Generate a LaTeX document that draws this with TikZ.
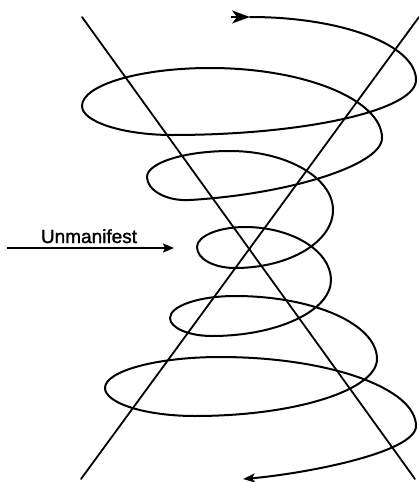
\documentclass[tikz,border=0pt]{standalone}
\usepackage{fontspec}
\newfontfamily\lblfont{Liberation Sans}[FakeBold=1.5]
\usetikzlibrary{arrows.meta}
\tikzset{
  axisline/.style={line width=1.8pt, line cap=round},
  spiral/.style={line width=2pt, line join=round, line cap=round},
  labeltext/.style={font=\lblfont\fontsize{19}{22}\selectfont, inner sep=0pt, anchor=base},
  pointer/.style={line width=1.8pt, -{Stealth[length=11pt,width=9pt,inset=2pt]}}
}
\begin{document}
\begin{tikzpicture}[x=1pt,y=-1pt]
\useasboundingbox (0,0) rectangle (418,482);
% crossing lines
\coordinate (a1) at (82,17);
\coordinate (a2) at (415,479);
\coordinate (b1) at (81,479);
\coordinate (b2) at (419,17);
\draw[axisline] (a1) -- (a2);
\draw[axisline] (b1) -- (b2);
% spiral: extremes (R,L), bottoms (B), tops (T)
\coordinate (s0) at (231,17);
\coordinate (s1) at (250,17);
\coordinate (R1) at (416,80);
\coordinate (B1) at (172,135);
\coordinate (L1) at (82,106);
\coordinate (T1) at (210,68);
\coordinate (R2) at (382,138);
\coordinate (B2) at (190,200);
\coordinate (L2) at (147,177);
\coordinate (T2) at (230,151);
\coordinate (R3) at (333,210);
\coordinate (B3) at (235,268);
\coordinate (L3) at (197,247);
\coordinate (T3) at (245,227);
\coordinate (R4) at (331,280);
\coordinate (B4) at (212,336);
\coordinate (L4) at (170,318);
\coordinate (T4) at (235,296);
\coordinate (R5) at (377,359);
\coordinate (B5) at (195,416);
\coordinate (L5) at (105,388);
\coordinate (T5) at (220,357);
\coordinate (R6) at (416,426);
\coordinate (E) at (243,479);
\draw[spiral, -{Stealth[length=12pt,width=9pt,inset=3pt]}]
  (s1) .. controls (342,17) and (416,45) .. (R1)
       .. controls (416,110) and (306,135) .. (B1)
       .. controls (124,135) and (82,122) .. (L1)
       .. controls (82,85) and (140,68) .. (T1)
       .. controls (305,68) and (382,100) .. (R2)
       .. controls (382,165) and (290,194) .. (B2)
       .. controls (166,201.4) and (147,190) .. (L2)
       .. controls (147,163) and (184,151) .. (T2)
       .. controls (287,151) and (333,178) .. (R3)
       .. controls (333,242) and (289,268) .. (B3)
       .. controls (214,268) and (197,259) .. (L3)
       .. controls (197,236) and (219,227) .. (T3)
       .. controls (292,227) and (331,251) .. (R4)
       .. controls (331,311) and (277,336) .. (B4)
       .. controls (189,336) and (170,328) .. (L4)
       .. controls (170,306) and (199,296) .. (T4)
       .. controls (313,296) and (377,324) .. (R5)
       .. controls (377,390) and (295,416) .. (B5)
       .. controls (145,416) and (105,403) .. (L5)
       .. controls (105,371) and (157,357) .. (T5)
       .. controls (328,357) and (416,388) .. (R6)
       .. controls (416,453) and (302,474) .. (E);
\draw[spiral, line cap=butt, -{Stealth[length=18pt,width=13pt,inset=5pt]}] (s0) -- (s1);
% label
\node[labeltext] (lbl) at (89,243) {Unmanifest};
\coordinate (p1) at (7,248);
\coordinate (p2) at (174,248);
\draw[pointer] (p1) -- (p2);
\end{tikzpicture}
\end{document}
